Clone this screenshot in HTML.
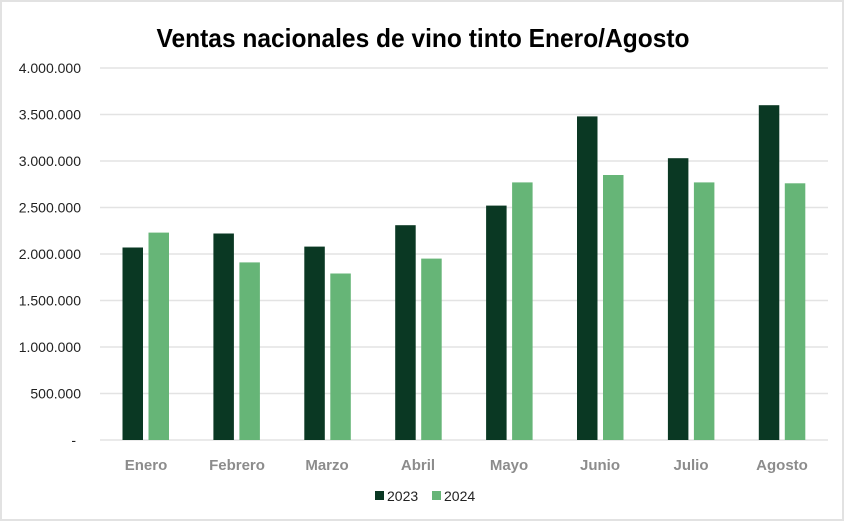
<!DOCTYPE html>
<html><head><meta charset="utf-8"><style>
html,body{margin:0;padding:0;background:#fff;}
svg{display:block;}
</style></head><body>
<svg width="845" height="522" viewBox="0 0 845 522" xmlns="http://www.w3.org/2000/svg" font-family="Liberation Sans, sans-serif">
<rect x="0" y="0" width="845" height="522" fill="#fff"/>
<rect x="1" y="1" width="842" height="519" fill="none" stroke="#e2e2e2" stroke-width="2"/>
<text x="423" y="47" text-anchor="middle" font-size="26" font-weight="bold" fill="#000" textLength="533" lengthAdjust="spacingAndGlyphs">Ventas nacionales de vino tinto Enero/Agosto</text>
<g stroke="#e3e3e3" stroke-width="1.5">
<line x1="100" x2="828" y1="68" y2="68"/>
<line x1="100" x2="828" y1="114.5" y2="114.5"/>
<line x1="100" x2="828" y1="161" y2="161"/>
<line x1="100" x2="828" y1="207.5" y2="207.5"/>
<line x1="100" x2="828" y1="254" y2="254"/>
<line x1="100" x2="828" y1="300.5" y2="300.5"/>
<line x1="100" x2="828" y1="347" y2="347"/>
<line x1="100" x2="828" y1="393.5" y2="393.5"/>
<line x1="100" x2="828" y1="440" y2="440"/>
</g>
<g font-size="14" fill="#222" text-anchor="end">
<text x="81" y="73">4.000.000</text>
<text x="81" y="119.5">3.500.000</text>
<text x="81" y="166">3.000.000</text>
<text x="81" y="212.5">2.500.000</text>
<text x="81" y="259">2.000.000</text>
<text x="81" y="305.5">1.500.000</text>
<text x="81" y="352">1.000.000</text>
<text x="81" y="398.5">500.000</text>
<text x="76" y="445">-</text>
</g>
<g fill="#0a3823">
<rect x="122.5" y="247.5" width="20.5" height="192.5"/>
<rect x="213.4" y="233.5" width="20.5" height="206.5"/>
<rect x="304.3" y="246.6" width="20.5" height="193.4"/>
<rect x="395.2" y="225.2" width="20.5" height="214.8"/>
<rect x="486.1" y="205.6" width="20.5" height="234.4"/>
<rect x="577" y="116.4" width="20.5" height="323.6"/>
<rect x="667.9" y="158.2" width="20.5" height="281.8"/>
<rect x="758.8" y="105.2" width="20.5" height="334.8"/>
</g>
<g fill="#66b577">
<rect x="148.5" y="232.6" width="20.5" height="207.4"/>
<rect x="239.4" y="262.4" width="20.5" height="177.6"/>
<rect x="330.3" y="273.5" width="20.5" height="166.5"/>
<rect x="421.2" y="258.6" width="20.5" height="181.4"/>
<rect x="512.1" y="182.4" width="20.5" height="257.6"/>
<rect x="603" y="175" width="20.5" height="265"/>
<rect x="693.9" y="182.4" width="20.5" height="257.6"/>
<rect x="784.8" y="183.3" width="20.5" height="256.7"/>
</g>
<g font-size="15" font-weight="bold" fill="#8c8c8c" text-anchor="middle">
<text x="146" y="470">Enero</text>
<text x="237" y="470">Febrero</text>
<text x="327" y="470">Marzo</text>
<text x="418" y="470">Abril</text>
<text x="509" y="470">Mayo</text>
<text x="600" y="470">Junio</text>
<text x="691" y="470">Julio</text>
<text x="782" y="470">Agosto</text>
</g>
<rect x="375" y="491" width="9" height="9" fill="#0a3823"/>
<text x="387" y="501" font-size="14" fill="#222">2023</text>
<rect x="432" y="491" width="9" height="9" fill="#66b577"/>
<text x="444" y="501" font-size="14" fill="#222">2024</text>
</svg>
</body></html>
